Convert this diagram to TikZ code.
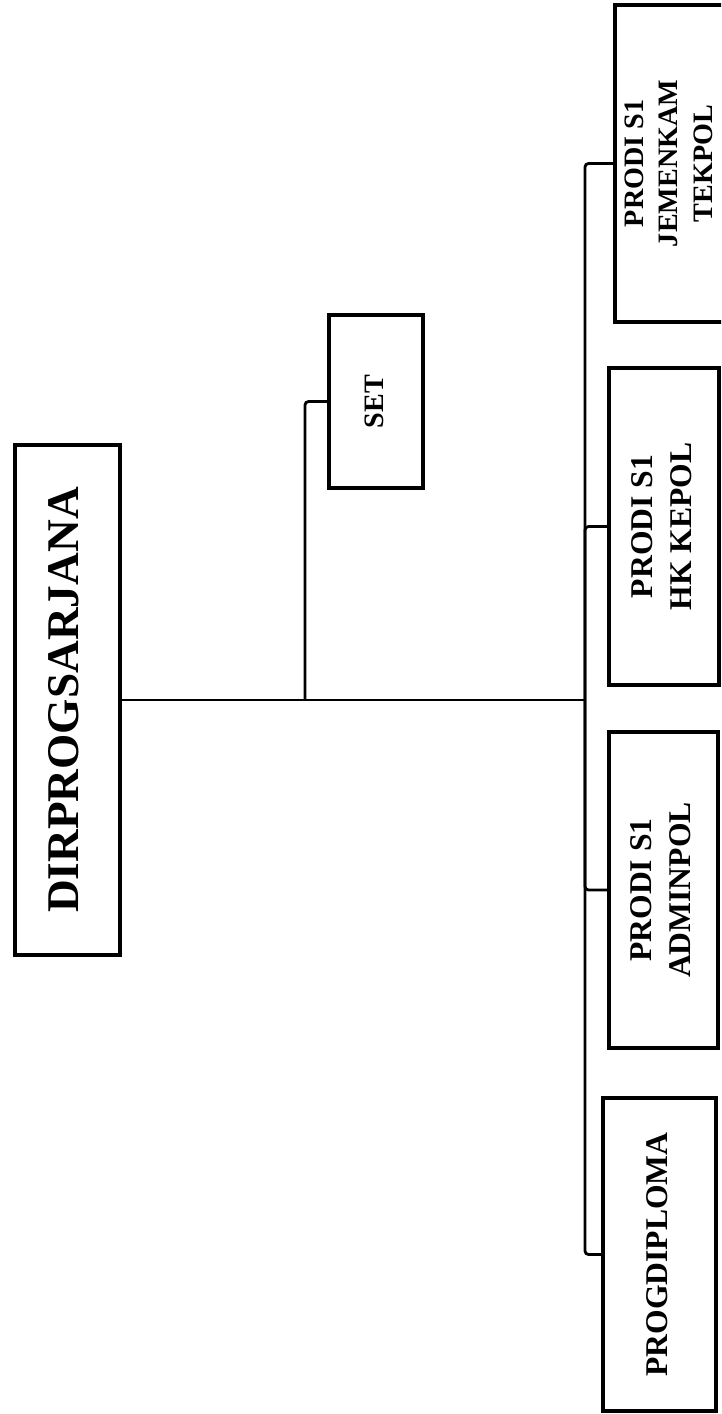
\documentclass[tikz,border=0pt]{standalone}
\usepackage{fontspec}
\setmainfont{Liberation Serif}
\usepackage{tikz}
\usetikzlibrary{calc}
\newcommand{\vtxt}[1]{\rotatebox{90}{\begin{tabular}{@{}c@{}}#1\end{tabular}}}
\tikzset{
  box/.style={draw=black,line width=2.2pt,inner sep=0pt,align=center,
    font=\bfseries\fontsize{18}{22}\selectfont},
  link/.style={line width=1.6pt,rounded corners=2pt}
}

\begin{document}
\begin{tikzpicture}[x=0.02cm,y=-0.02cm]
\useasboundingbox (0,0) rectangle (721,1414);
\clip (0,0) rectangle (721,1414);
% top of the chart
\node[box,minimum width=2.1cm,minimum height=10.2cm,font=\bfseries\fontsize{25.8}{30}\selectfont]
  (dir) at (67.5,700) {\vtxt{DIRPROGSARJANA}};
\node[box,minimum width=1.88cm,minimum height=3.46cm,font=\bfseries\fontsize{16}{20}\selectfont]
  (set) at (376,401.5) {\vtxt{SET}};
% programmes
\node[box,minimum width=2.24cm,minimum height=6.34cm,font=\bfseries\fontsize{16}{19.5}\selectfont]
  (jem) at (671,163.5) {\vtxt{PRODI S1\\JEMENKAM\\TEKPOL}};
\node[box,minimum width=2.2cm,minimum height=6.34cm] (hk) at (664,526.5) {\vtxt{PRODI S1\\HK KEPOL}};
\node[box,minimum width=2.18cm,minimum height=6.32cm] (adm) at (663.5,890) {\vtxt{PRODI S1\\ADMINPOL}};
\node[box,minimum width=2.26cm,minimum height=6.26cm] (dip) at (659.5,1254.5) {\vtxt{PROGDIPLOMA}};
% lines
\coordinate (hub) at (585,700);
\coordinate (sj) at (305,700);
\draw[link] (dir.east) -- (hub);
\draw[link] (sj) |- (set.west);
\foreach \b in {jem,hk,adm,dip}{\draw[link] (hub) |- (\b.west);}
\end{tikzpicture}
\end{document}
